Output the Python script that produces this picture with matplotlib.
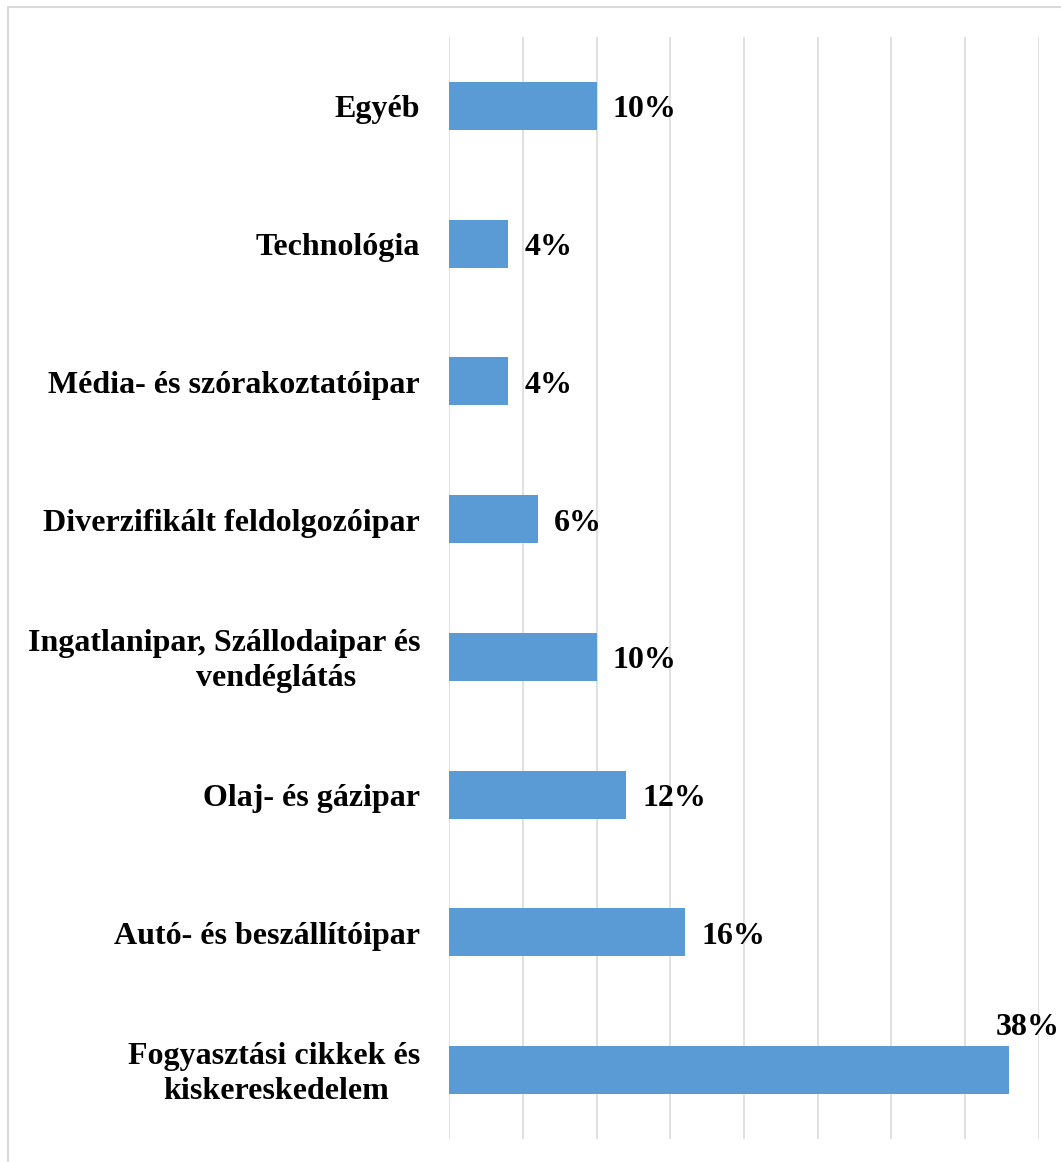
import matplotlib.pyplot as plt
from matplotlib.patches import Rectangle
import matplotlib.transforms as mtransforms

categories = [
    "Fogyasztási cikkek és\nkiskereskedelem",
    "Autó- és beszállítóipar",
    "Olaj- és gázipar",
    "Ingatlanipar, Szállodaipar és\nvendéglátás",
    "Diverzifikált feldolgozóipar",
    "Média- és szórakoztatóipar",
    "Technológia",
    "Egyéb",
]
values = [38, 16, 12, 10, 6, 4, 4, 10]
value_labels = ["38%", "16%", "12%", "10%", "6%", "4%", "4%", "10%"]
xticks = [0, 5, 10, 15, 20, 25, 30, 35, 40]

plt.rcParams['font.family'] = ['Liberation Serif', 'DejaVu Serif']
plt.rcParams['font.weight'] = 'bold'

W, H = 1061, 1162
fig = plt.figure(figsize=(W / 100, H / 100), dpi=100)
ax = fig.add_axes([449.3 / W, 1 - 1139 / H, (1038.7 - 449.3) / W, (1139 - 37) / H])

bar_color = '#5B9BD5'
y = list(range(len(categories)))
ax.barh(y, values, height=0.35, color=bar_color, zorder=3)

ax.set_xlim(0, 40)
ax.set_ylim(-0.5, len(categories) - 0.5)
ax.set_xticks(xticks)
ax.xaxis.grid(True, color='#d9d9d9', linewidth=1.1, zorder=0)
ax.tick_params(axis='both', length=0, labelbottom=False, labelleft=False)
for s in ax.spines.values():
    s.set_visible(False)

fs = 23
px_per_unit = (1038.7 - 449.3) / 40
half_cap = 0.66 * fs * 100 / 72 / 2  # pixels, to centre caps on the bar

def shifted(dx, dy):
    return mtransforms.offset_copy(ax.transData, fig=fig, x=dx, y=dy, units='dots')

# value labels
for i, (v, lab) in enumerate(zip(values, value_labels)):
    if v > 35:
        ax.text(v, i + 0.175, lab, ha='center', va='baseline', fontsize=fs,
                fontweight='bold', transform=shifted(18, 11), clip_on=False)
    else:
        ax.text(v, i, lab, ha='left', va='baseline', fontsize=fs,
                fontweight='bold', transform=shifted(16, -half_cap - 1))

# category labels: lines centred in a fixed label box, too-wide lines right aligned
fig.canvas.draw()
renderer = fig.canvas.get_renderer()
right_x = -(449.3 - 420) / px_per_unit
center_x = -(449.3 - 276) / px_per_unit
line_gap = 35
for i, cat in enumerate(categories):
    lines = cat.split("\n")
    n = len(lines)
    for k, line in enumerate(lines):
        dy = -(k - (n - 1) / 2) * line_gap - half_cap - 1
        if n == 1:
            ax.text(right_x, i, line, ha='right', va='baseline', fontsize=fs,
                    fontweight='bold', transform=shifted(0, dy), clip_on=False)
            continue
        t = ax.text(center_x, i, line, ha='center', va='baseline', fontsize=fs,
                    fontweight='bold', transform=shifted(0, dy), clip_on=False)
        bb = t.get_window_extent(renderer)
        if bb.x1 > 421:
            t.set_ha('right')
            t.set_x(right_x)

# light border around chart area (cut off at right and bottom edges)
fig.patches.append(Rectangle((7.5 / W, -0.05), 1.1, 1.05 - 7.5 / H,
                             transform=fig.transFigure, fill=False,
                             edgecolor='#d9d9d9', linewidth=1.5))

fig.savefig('out.png', dpi=100, facecolor='white')
